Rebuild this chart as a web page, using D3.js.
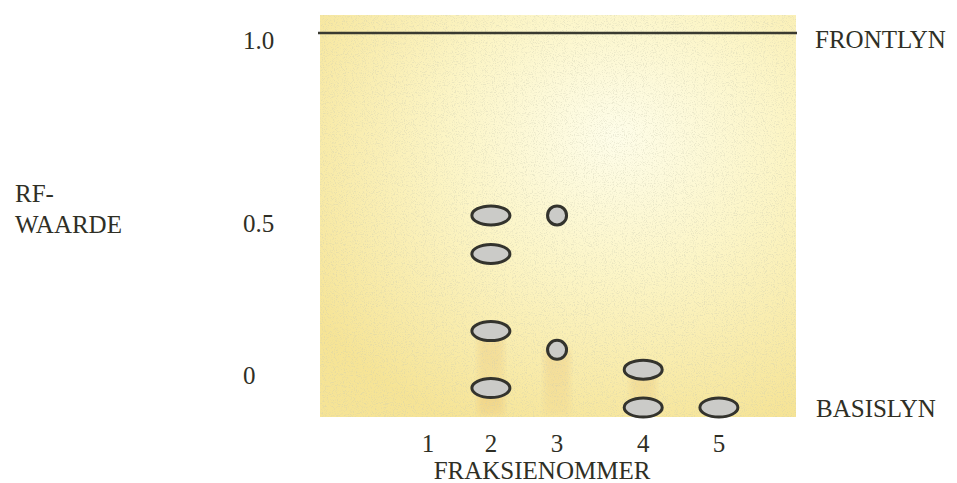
<!DOCTYPE html>
<html>
<head>
<meta charset="utf-8">
<script src="https://cdn.jsdelivr.net/npm/d3@7"></script>
<style>
  body { margin: 0; background: #fff; }
  text { font-family: "Liberation Serif", "DejaVu Serif", serif; fill: #2f2f25; }
</style>
</head>
<body>
<script>
// data
var lanes = [1, 2, 3, 4, 5];
var laneCm = [2.27, 3.59, 4.98, 6.79, 8.38];   // lane position across a 10 cm plate
var spotLane = [2, 2, 2, 2, 3, 3, 4, 4, 5];
var spotRf = [0.513, 0.41, 0.204, 0.052, 0.513, 0.154, 0.101, 0, 0];
var spotRound = [false, false, false, false, true, true, false, false, false];
var rfTicks = ["1.0", "0.5", "0"];
var rfTickAt = [0.98, 0.49, 0.085];   // where the printed labels sit

var width = 957, height = 483;
var plate = {left: 320, right: 796, top: 15, bottom: 417};

var svg = d3.select("body").append("svg")
    .attr("width", width)
    .attr("height", height);

var x = d3.scaleLinear().domain([0, 10]).range([plate.left, plate.right]);
var y = d3.scaleLinear().domain([0, 1]).range([407.5, 33]);

var laneX = function(l) { return x(laneCm[lanes.indexOf(l)]); };

var defs = svg.append("defs");
var grad = defs.append("radialGradient").attr("id", "plateFill")
    .attr("cx", "62%").attr("cy", "30%").attr("r", "78%");
grad.append("stop").attr("offset", "0%").attr("stop-color", "#fefde9");
grad.append("stop").attr("offset", "45%").attr("stop-color", "#fcf5c6");
grad.append("stop").attr("offset", "100%").attr("stop-color", "#f6e496");

var streakGrad = defs.append("linearGradient").attr("id", "streak")
    .attr("x1", 0).attr("x2", 0).attr("y1", 0).attr("y2", 1);
streakGrad.append("stop").attr("offset", "0%").attr("stop-color", "#e6b868").attr("stop-opacity", 0.3);
streakGrad.append("stop").attr("offset", "100%").attr("stop-color", "#e6b868").attr("stop-opacity", 0.12);

var grain = defs.append("filter").attr("id", "grain")
    .attr("x", 0).attr("y", 0).attr("width", 1).attr("height", 1);
grain.append("feTurbulence").attr("type", "fractalNoise").attr("baseFrequency", 0.9)
    .attr("numOctaves", 2).attr("seed", 4);
grain.append("feColorMatrix").attr("type", "matrix")
    .attr("values", "0 0 0 0 0.6  0 0 0 0 0.6  0 0 0 0 0.45  5 0 0 0 -2.6");

var blur = defs.append("filter").attr("id", "soft");
blur.append("feGaussianBlur").attr("stdDeviation", 3);

var clip = defs.append("clipPath").attr("id", "plateClip");
clip.append("rect")
    .attr("x", plate.left).attr("y", plate.top)
    .attr("width", plate.right - plate.left).attr("height", plate.bottom - plate.top);

// plate
svg.append("rect")
    .attr("x", plate.left).attr("y", plate.top)
    .attr("width", plate.right - plate.left).attr("height", plate.bottom - plate.top)
    .attr("fill", "url(#plateFill)");

// faint trails under the low spots
var low = spotRf.map(function(r, i) { return {lane: spotLane[i], rf: r}; })
    .filter(function(d) { return d.rf > 0 && d.rf < 0.25; });
svg.append("g").attr("clip-path", "url(#plateClip)")
  .selectAll(".trail").data(low).enter().append("rect")
    .attr("class", "trail")
    .attr("x", function(d) { return laneX(d.lane) - 13; })
    .attr("y", function(d) { return y(d.rf); })
    .attr("width", 26)
    .attr("height", function(d) { return y(0) - y(d.rf) + 8; })
    .attr("fill", "url(#streak)")
    .attr("filter", "url(#soft)");

svg.append("rect")
    .attr("x", plate.left).attr("y", plate.top)
    .attr("width", plate.right - plate.left).attr("height", plate.bottom - plate.top)
    .attr("filter", "url(#grain)")
    .attr("opacity", 0.35);

// front line
svg.append("line")
    .attr("x1", plate.left - 2).attr("x2", plate.right + 1)
    .attr("y1", y(1)).attr("y2", y(1))
    .attr("stroke", "#3a3a30").attr("stroke-width", 2.5);

// spots
svg.selectAll(".spot").data(spotRf).enter().append("ellipse")
    .attr("class", "spot")
    .attr("cx", function(d, i) { return laneX(spotLane[i]); })
    .attr("cy", function(d) { return y(d); })
    .attr("rx", function(d, i) { return spotRound[i] ? 9.5 : 19; })
    .attr("ry", 9.5)
    .attr("fill", "#cbcbc8")
    .attr("stroke", "#33332d")
    .attr("stroke-width", 3);

// y labels
svg.selectAll(".rftick").data(rfTicks).enter().append("text")
    .attr("class", "rftick")
    .attr("x", 243)
    .attr("y", function(d, i) { return y(rfTickAt[i]); })
    .attr("dy", "0.34em")
    .style("font-size", "25px")
    .text(function(d) { return d; });

svg.append("text").attr("x", 15).attr("y", 202).style("font-size", "25px").text("RF-");
svg.append("text").attr("x", 15).attr("y", 233).style("font-size", "25px").text("WAARDE");

// x labels
svg.selectAll(".lane").data(lanes).enter().append("text")
    .attr("class", "lane")
    .attr("x", function(d) { return laneX(d); })
    .attr("y", 452)
    .attr("text-anchor", "middle")
    .style("font-size", "25px")
    .text(function(d) { return d; });

svg.append("text").attr("x", 542).attr("y", 479).attr("text-anchor", "middle")
    .style("font-size", "25px").text("FRAKSIENOMMER");

// line labels
svg.append("text").attr("x", 815).attr("y", 48).style("font-size", "25px").text("FRONTLYN");
svg.append("text").attr("x", 816).attr("y", 417).style("font-size", "25px").text("BASISLYN");
</script>
</body>
</html>
